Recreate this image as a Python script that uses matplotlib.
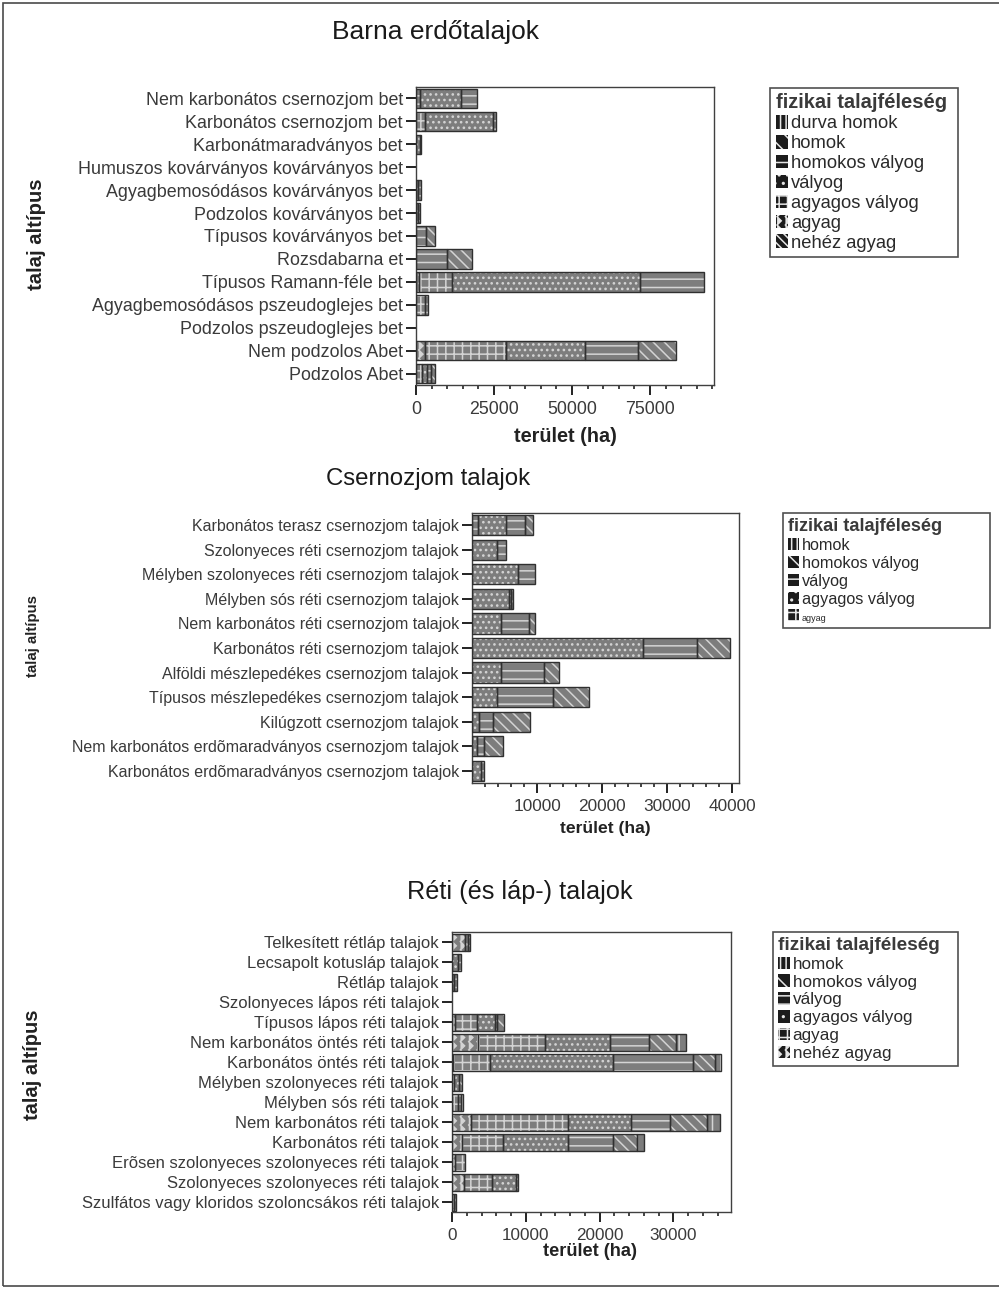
import numpy as np
import matplotlib
matplotlib.use("Agg")
import matplotlib.pyplot as plt
import matplotlib.hatch as mhatch
from matplotlib.path import Path
from matplotlib.patches import Patch, Rectangle


# --- zigzag texture ('O' in a hatch string selects it) ----------------------
class ZigZagHatch(mhatch.HatchPatternBase):
    def __init__(self, hatch, density):
        self.num_cols = int(hatch.count('O') * density / 2)
        self.teeth = 2 * self.num_cols
        self.num_vertices = self.num_cols * (self.teeth + 1)

    def set_vertices_and_codes(self, vertices, codes):
        n = self.teeth + 1
        amp = 0.25 / self.num_cols
        ys = np.linspace(0.0, 1.0, n)
        offs = np.where(np.arange(n) % 2 == 0, -amp, amp)
        for i in range(self.num_cols):
            cx = (i + 0.5) / self.num_cols
            seg = slice(i * n, (i + 1) * n)
            vertices[seg, 0] = cx + offs
            vertices[seg, 1] = ys
            codes[seg] = Path.LINETO
            codes[i * n] = Path.MOVETO


mhatch._hatch_types = [t for t in mhatch._hatch_types
                       if t is not mhatch.LargeCircles] + [ZigZagHatch]

plt.rcParams['font.family'] = ['Liberation Sans', 'DejaVu Sans']
plt.rcParams['hatch.linewidth'] = 1.1

# --- data: area (ha) per soil sub-type, stacked by physical soil texture ----
cats1 = ["Nem karbonátos csernozjom bet", "Karbonátos csernozjom bet",
         "Karbonátmaradványos bet", "Humuszos kovárványos kovárványos bet",
         "Agyagbemosódásos kovárványos bet", "Podzolos kovárványos bet",
         "Típusos kovárványos bet", "Rozsdabarna et",
         "Típusos Ramann-féle bet", "Agyagbemosódásos pszeudoglejes bet",
         "Podzolos pszeudoglejes bet", "Nem podzolos Abet", "Podzolos Abet"]
classes1 = ["durva homok", "homok", "homokos vályog", "vályog",
            "agyagos vályog", "agyag", "nehéz agyag"]
nehez_agyag1 =     [0, 0, 0, 0, 0, 0, 0, 0, 0, 0, 0, 0, 0]
agyag1 =           [0, 0, 0, 0, 0, 0, 0, 0, 900, 0, 0, 2800, 0]
agyagos_valyog1 =  [1300, 3000, 0, 0, 0, 0, 0, 0, 10500, 3000, 0, 25900, 1900]
valyog1 =          [13200, 21800, 1200, 0, 800, 700, 0, 0, 60500, 0, 0, 25400, 1500]
homokos_valyog1 =  [5100, 900, 300, 0, 700, 600, 3200, 9800, 20300, 1000, 0, 16900, 1500]
homok1 =           [0, 0, 0, 0, 0, 0, 2800, 8000, 0, 0, 0, 12400, 1300]
durva_homok1 =     [0, 0, 0, 0, 0, 0, 0, 0, 0, 0, 0, 0, 0]

cats2 = ["Karbonátos terasz csernozjom talajok",
         "Szolonyeces réti csernozjom talajok",
         "Mélyben szolonyeces réti csernozjom talajok",
         "Mélyben sós réti csernozjom talajok",
         "Nem karbonátos réti csernozjom talajok",
         "Karbonátos réti csernozjom talajok",
         "Alföldi mészlepedékes csernozjom talajok",
         "Típusos mészlepedékes csernozjom talajok",
         "Kilúgzott csernozjom talajok",
         "Nem karbonátos erdõmaradványos csernozjom talajok",
         "Karbonátos erdõmaradványos csernozjom talajok"]
classes2 = ["homok", "homokos vályog", "vályog", "agyagos vályog", "agyag"]
agyag2 =           [900, 0, 0, 0, 0, 0, 0, 0, 0, 0, 0]
agyagos_valyog2 =  [4300, 3900, 7100, 5700, 4500, 26200, 4400, 3800, 1000, 700, 1400]
valyog2 =          [3000, 1300, 2600, 300, 4200, 8300, 6700, 8600, 2300, 1100, 400]
homokos_valyog2 =  [1100, 0, 0, 250, 900, 5100, 2200, 5500, 5600, 3000, 0]
homok2 =           [0, 0, 0, 0, 0, 0, 0, 0, 0, 0, 0]

cats3 = ["Telkesített rétláp talajok", "Lecsapolt kotusláp talajok",
         "Rétláp talajok", "Szolonyeces lápos réti talajok",
         "Típusos lápos réti talajok", "Nem karbonátos öntés réti talajok",
         "Karbonátos öntés réti talajok", "Mélyben szolonyeces réti talajok",
         "Mélyben sós réti talajok", "Nem karbonátos réti talajok",
         "Karbonátos réti talajok",
         "Erõsen szolonyeces szolonyeces réti talajok",
         "Szolonyeces szolonyeces réti talajok",
         "Szulfátos vagy kloridos szoloncsákos réti talajok"]
classes3 = ["homok", "homokos vályog", "vályog", "agyagos vályog", "agyag",
            "nehéz agyag"]
nehez_agyag3 =     [1700, 0, 0, 0, 350, 3500, 200, 300, 0, 2600, 1300, 350, 1600, 300]
agyag3 =           [0, 0, 0, 0, 3100, 9100, 5000, 0, 800, 13100, 5600, 1350, 3850, 0]
agyagos_valyog3 =  [400, 800, 300, 0, 2400, 8800, 16600, 700, 0, 8500, 8800, 0, 3200, 250]
valyog3 =          [300, 450, 400, 0, 200, 5350, 10900, 0, 450, 5400, 6100, 0, 350, 0]
homokos_valyog3 =  [0, 0, 0, 0, 1000, 3600, 2900, 300, 0, 5000, 3300, 0, 0, 0]
homok3 =           [0, 0, 0, 0, 0, 1400, 900, 0, 200, 1700, 900, 0, 0, 0]

# --- styling ----------------------------------------------------------------
W, H = 999, 1289
FILL = '#7d7d7d'
HATCH_C = '#d4d4d4'
EDGE = '#303030'
TXT = '#3a3a3a'

fig = plt.figure(figsize=(W / 100, H / 100), dpi=100)


def fx(x):
    return x / W


def fy(y):
    return 1 - y / H


def make_axes(left, top, right, bottom):
    return fig.add_axes([fx(left), fy(bottom), (right - left) / W,
                         (bottom - top) / H])


def stacked(ax, cats, series, hatches, height):
    y = np.arange(len(cats))
    left = np.zeros(len(cats))
    for vals, hatch in zip(series, hatches):
        vals = np.asarray(vals, dtype=float)
        m = vals > 0
        if m.any():
            ax.barh(y[m], vals[m], left=left[m], height=height, color=FILL,
                    edgecolor=HATCH_C, hatch=hatch, linewidth=0, zorder=2)
            ax.barh(y[m], vals[m], left=left[m], height=height, fill=False,
                    edgecolor=EDGE, linewidth=1.0, zorder=3)
        left += vals
    ax.set_ylim(len(cats) - 0.5, -0.5)
    ax.set_yticks(y)


def style_axes(ax, cats, ysize, xsize):
    ax.set_yticklabels(cats, fontsize=ysize, color=TXT)
    ax.tick_params(axis='y', length=7.5, width=1.4, pad=2, color='#222222')
    ax.tick_params(axis='x', which='major', length=7.5, width=1.4, pad=4,
                   color='#222222', labelsize=xsize, labelcolor=TXT)
    ax.tick_params(axis='x', which='minor', length=3, width=1.2,
                   color='#222222')
    for s in ax.spines.values():
        s.set_color('#404040')
        s.set_linewidth(1.0)


def add_legend(ax, labels, hatches, x, y, x2, tsize, lsize, spacing):
    handles = [Patch(facecolor='#1c1c1c', edgecolor='#e6e6e6', hatch=h,
                     linewidth=0, label=l) for l, h in zip(labels, hatches)]
    leg = ax.legend(handles=handles, loc='upper left', mode='expand',
                    bbox_to_anchor=(fx(x), fy(y), (x2 - x) / W, 0),
                    bbox_transform=fig.transFigure, title='fizikai talajféleség',
                    title_fontproperties={'weight': 'bold', 'size': tsize},
                    fontsize=lsize, frameon=True, fancybox=False,
                    edgecolor='#505050', framealpha=1, borderpad=0.3,
                    handlelength=0.7, handleheight=0.75, handletextpad=0.15,
                    labelspacing=spacing, borderaxespad=0, alignment='left')
    leg.get_frame().set_linewidth(1.2)
    leg.get_title().set_color('#3a3a3a')
    for t in leg.get_texts():
        t.set_color('#2a2a2a')
    return leg


# --- Barna erdőtalajok ------------------------------------------------------
ax1 = make_axes(416, 87, 714, 385)
stacked(ax1, cats1,
        [nehez_agyag1, agyag1, agyagos_valyog1, valyog1, homokos_valyog1,
         homok1, durva_homok1],
        ['\\\\\\\\', 'OOOO', '++', '...', '--', '\\\\\\', '||'], 0.85)
ax1.set_xlim(0, 95500)
ax1.set_xticks([0, 25000, 50000, 75000])
ax1.set_xticks(np.arange(5000, 95500, 5000), minor=True)
style_axes(ax1, cats1, 12.9, 12.8)
add_legend(ax1, classes1,
           ['|||', '\\\\', '--', '..', '++', 'OOOO', '\\\\\\\\'],
           770, 88, 958, 14.5, 13.2, 0.15)
fig.text(fx(436), fy(32), "Barna erdőtalajok", fontsize=19, ha='center',
         va='center', color='#1a1a1a')
fig.text(fx(37), fy(234), "talaj altípus", fontsize=14.6, fontweight='bold',
         rotation=90, ha='center', va='center', color='#222222')
fig.text(fx(565), fy(436), "terület (ha)", fontsize=14.3, fontweight='bold',
         ha='center', va='center', color='#222222')

# --- Csernozjom talajok -----------------------------------------------------
ax2 = make_axes(472, 513, 739, 783)
stacked(ax2, cats2,
        [agyag2, agyagos_valyog2, valyog2, homokos_valyog2, homok2],
        ['++', '...', '--', '\\\\\\', '||'], 0.82)
ax2.set_xlim(0, 41000)
ax2.set_xticks([10000, 20000, 30000, 40000])
ax2.set_xticks([v for v in range(2000, 41000, 2000) if v % 10000], minor=True)
style_axes(ax2, cats2, 11.5, 12.4)
leg2 = add_legend(ax2, classes2, ['|||', '\\\\', '--', '..', '++'],
                  783, 513, 990, 13.1, 11.7, 0.18)
leg2.get_texts()[-1].set_fontsize(6.5)
fig.text(fx(428), fy(479), "Csernozjom talajok", fontsize=17.3, ha='center',
         va='center', color='#1a1a1a')
fig.text(fx(33), fy(636), "talaj altípus", fontsize=10.8, fontweight='bold',
         rotation=90, ha='center', va='center', color='#222222')
fig.text(fx(605), fy(828), "terület (ha)", fontsize=12.6, fontweight='bold',
         ha='center', va='center', color='#222222')

# --- Réti (és láp-) talajok -------------------------------------------------
ax3 = make_axes(452, 932, 731, 1212)
stacked(ax3, cats3,
        [nehez_agyag3, agyag3, agyagos_valyog3, valyog3, homokos_valyog3,
         homok3],
        ['OOOO', '++', '...', '--', '\\\\\\', '||'], 0.85)
ax3.set_xlim(0, 37800)
ax3.set_xticks([0, 10000, 20000, 30000])
ax3.set_xticks([v for v in range(2000, 37800, 2000) if v % 10000], minor=True)
style_axes(ax3, cats3, 12, 12.3)
add_legend(ax3, classes3, ['|||', '\\\\', '--', '..', '++', 'OOOO'],
           773, 932, 958, 13.7, 12.3, 0.15)
fig.text(fx(520), fy(892), "Réti (és láp-) talajok", fontsize=18.2,
         ha='center', va='center', color='#1a1a1a')
fig.text(fx(32), fy(1065), "talaj altípus", fontsize=14.5, fontweight='bold',
         rotation=90, ha='center', va='center', color='#222222')
fig.text(fx(590), fy(1251), "terület (ha)", fontsize=13.1, fontweight='bold',
         ha='center', va='center', color='#222222')

# page frame
fig.add_artist(Rectangle((fx(3), fy(1286)), (W + 10) / W, 1283 / H,
                         transform=fig.transFigure, fill=False,
                         edgecolor='#4a4a4a', linewidth=1.2))

fig.savefig("out.png", dpi=100)
